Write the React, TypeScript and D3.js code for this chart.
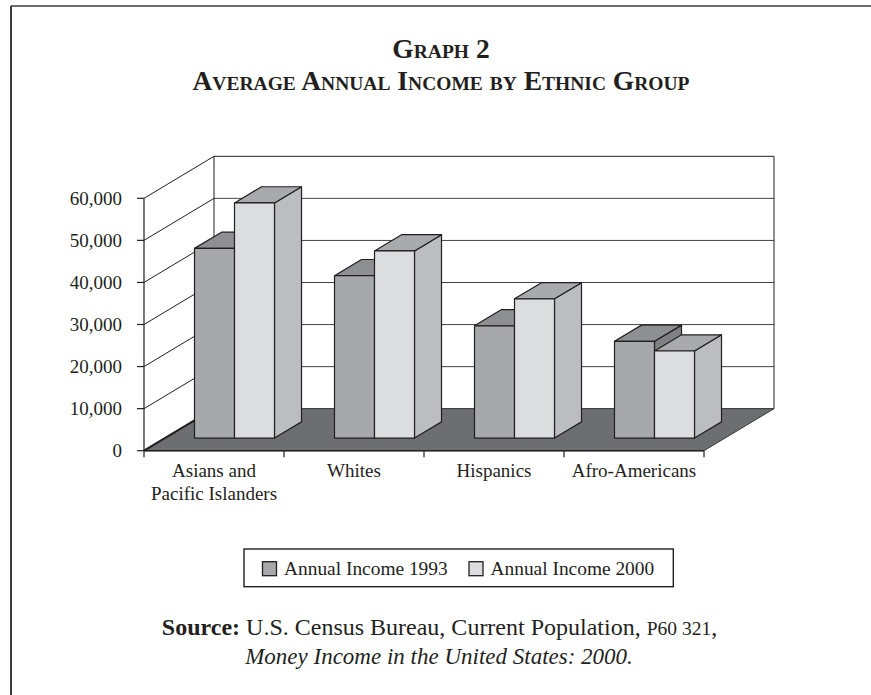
import React from "react";
import * as d3 from "d3";

const categories = ["Asians and Pacific Islanders", "Whites", "Hispanics", "Afro-Americans"];
const categoryLines = [["Asians and", "Pacific Islanders"], ["Whites"], ["Hispanics"], ["Afro-Americans"]];
const seriesNames = ["Annual Income 1993", "Annual Income 2000"];
const income1993 = [45100, 38600, 26700, 23000];
const income2000 = [55900, 44500, 33100, 20700];
const yTicks = [0, 10000, 20000, 30000, 40000, 50000, 60000];

const W = 871;
const H = 695;
const INK = "#231f20";
const SERIF = "'Liberation Serif', 'Times New Roman', serif";

const seriesColors = [
  { front: "#a7a8ab", top: "#8e8f92", side: "#808184" },
  { front: "#dcdddf", top: "#a9aaad", side: "#bcbdc0" },
];

function smallCapsSpans(text: string, big: number, small: number) {
  // split into runs: uppercase initial letters big, rest small (rendered uppercase)
  const out: React.ReactNode[] = [];
  let k = 0;
  for (const ch of text) {
    const isBig = ch === " " || (ch >= "0" && ch <= "9") || (ch !== ch.toLowerCase());
    out.push(
      <tspan key={k++} fontSize={isBig ? big : small}>
        {ch.toUpperCase()}
      </tspan>
    );
  }
  return out;
}

export default function App() {
  const y = d3.scaleLinear().domain([0, 60000]).range([450.7, 198.3]);
  const xBand = d3.scaleBand<string>().domain(categories).range([144, 704]);
  const sBand = d3.scaleBand<string>().domain(seriesNames).range([29.5, 109.5]);
  const dX = 70;
  const dY = 42;
  const proj = (x: number, v: number, z: number): [number, number] => [x + z * dX, y(v) - z * dY];
  const pts = (arr: [number, number][]) => arr.map((p) => p.join(",")).join(" ");
  const xL = xBand.range()[0];
  const xR = xBand.range()[1];
  const yMax = y.domain()[1];
  const fmt = d3.format(",");
  const z0 = 0.3;
  const z1 = 0.686;

  const seriesValues = [income1993, income2000];

  const bars: React.ReactNode[] = [];
  categories.forEach((cat, i) => {
    seriesNames.forEach((s, si) => {
      const v = seriesValues[si][i];
      const bx = (xBand(cat) as number) + (sBand(s) as number);
      const w = sBand.bandwidth();
      const c = seriesColors[si];
      const front = [proj(bx, 0, z0), proj(bx + w, 0, z0), proj(bx + w, v, z0), proj(bx, v, z0)] as [number, number][];
      const top = [proj(bx, v, z0), proj(bx + w, v, z0), proj(bx + w, v, z1), proj(bx, v, z1)] as [number, number][];
      const side = [proj(bx + w, 0, z0), proj(bx + w, 0, z1), proj(bx + w, v, z1), proj(bx + w, v, z0)] as [number, number][];
      bars.push(
        <g key={cat + s}>
          <polygon points={pts(side)} fill={c.side} stroke={INK} strokeWidth={1.2} strokeLinejoin="round" />
          <polygon points={pts(top)} fill={c.top} stroke={INK} strokeWidth={1.2} strokeLinejoin="round" />
          <polygon points={pts(front)} fill={c.front} stroke={INK} strokeWidth={1.2} strokeLinejoin="round" />
        </g>
      );
    });
  });

  const floor = [proj(xL, 0, 0), proj(xR, 0, 0), proj(xR, 0, 1), proj(xL, 0, 1)] as [number, number][];

  return (
    <div style={{ position: "absolute", left: 0, top: 0 }}>
      <svg width={W} height={H} viewBox={`0 0 ${W} ${H}`} style={{ display: "block", background: "#fff" }}>
        {/* page frame */}
        <line x1={11} y1={6} x2={W} y2={6} stroke="#3a3a3a" strokeWidth={1.6} />
        <line x1={11} y1={6} x2={11} y2={H} stroke="#3a3a3a" strokeWidth={2} />

        {/* title */}
        <text x={441} y={58} textAnchor="middle" fontFamily={SERIF} fontWeight="bold" fill={INK}>
          {smallCapsSpans("Graph 2", 27.5, 19.5)}
        </text>
        <text x={441} y={90} textAnchor="middle" fontFamily={SERIF} fontWeight="bold" fill={INK}>
          {smallCapsSpans("Average Annual Income by Ethnic Group", 27.5, 19.5)}
        </text>

        {/* left wall grid diagonals */}
        {yTicks.filter((t) => t > 0).map((t) => {
          const a = proj(xL, t, 0);
          const b = proj(xL, t, 1);
          return <line key={"lw" + t} x1={a[0]} y1={a[1]} x2={b[0]} y2={b[1]} stroke={INK} strokeWidth={1} />;
        })}
        {/* back wall gridlines */}
        {yTicks.map((t) => {
          const a = proj(xL, t, 1);
          const b = proj(xR, t, 1);
          return <line key={"bw" + t} x1={a[0]} y1={a[1]} x2={b[0]} y2={b[1]} stroke={t === yMax ? INK : "#444"} strokeWidth={1} />;
        })}
        {/* back wall verticals */}
        {[xL, xR].map((xx) => {
          const a = proj(xx, 0, 1);
          const b = proj(xx, yMax, 1);
          return <line key={"bv" + xx} x1={a[0]} y1={a[1]} x2={b[0]} y2={b[1]} stroke={INK} strokeWidth={1} />;
        })}

        {/* floor */}
        <polygon points={pts(floor)} fill="#6d6e71" stroke="#3b3b3d" strokeWidth={1} />
        <line x1={floor[0][0]} y1={floor[0][1]} x2={floor[3][0]} y2={floor[3][1]} stroke={INK} strokeWidth={2} />

        {/* y axis */}
        <line x1={xL} y1={y(0)} x2={xL} y2={y(yMax)} stroke={INK} strokeWidth={1.2} />
        {yTicks.map((t) => (
          <g key={"yt" + t}>
            <line x1={xL - 7} y1={y(t)} x2={xL} y2={y(t)} stroke={INK} strokeWidth={1.2} />
            <text x={122} y={y(t) + 6.7} textAnchor="end" fontFamily={SERIF} fontSize={19} fill={INK}>
              {fmt(t)}
            </text>
          </g>
        ))}

        {/* x axis */}
        <line x1={xL} y1={y(0)} x2={xR} y2={y(0)} stroke={INK} strokeWidth={1.5} />
        {[...categories.map((c) => xBand(c) as number), xR].map((xx, i) => (
          <line key={"xt" + i} x1={xx} y1={y(0)} x2={xx} y2={y(0) + 6.5} stroke={INK} strokeWidth={1.2} />
        ))}
        {categories.map((c, i) => (
          <text
            key={"xl" + c}
            x={(xBand(c) as number) + xBand.bandwidth() / 2}
            y={477.3}
            textAnchor="middle"
            fontFamily={SERIF}
            fontSize={19}
            fill={INK}
          >
            {categoryLines[i].map((ln, j) => (
              <tspan key={j} x={(xBand(c) as number) + xBand.bandwidth() / 2} dy={j === 0 ? 0 : 22.7}>
                {ln}
              </tspan>
            ))}
          </text>
        ))}

        {/* bars */}
        {bars}

        {/* legend */}
        <rect x={244} y={549} width={429.3} height={37.7} fill="#fff" stroke={INK} strokeWidth={1.4} />
        {seriesNames.map((s, i) => {
          const sx = i === 0 ? 262.5 : 469;
          return (
            <g key={"lg" + s}>
              <rect x={sx} y={561.7} width={14} height={14} fill={seriesColors[i].front} stroke={INK} strokeWidth={1.3} />
              <text x={sx + 21.5} y={575.3} fontFamily={SERIF} fontSize={19.4} fill={INK}>
                {s}
              </text>
            </g>
          );
        })}

        {/* source */}
        <text x={439.5} y={635} textAnchor="middle" fontFamily={SERIF} fontSize={24} fill={INK}>
          <tspan fontWeight="bold">Source:</tspan>
          <tspan> U.S. Census Bureau, Current Population, </tspan>
          <tspan fontSize={19.5}>P60 321</tspan>
          <tspan>,</tspan>
        </text>
        <text x={439} y={663.5} textAnchor="middle" fontFamily={SERIF} fontSize={23} fontStyle="italic" fill={INK}>
          Money Income in the United States: 2000.
        </text>
      </svg>
    </div>
  );
}
